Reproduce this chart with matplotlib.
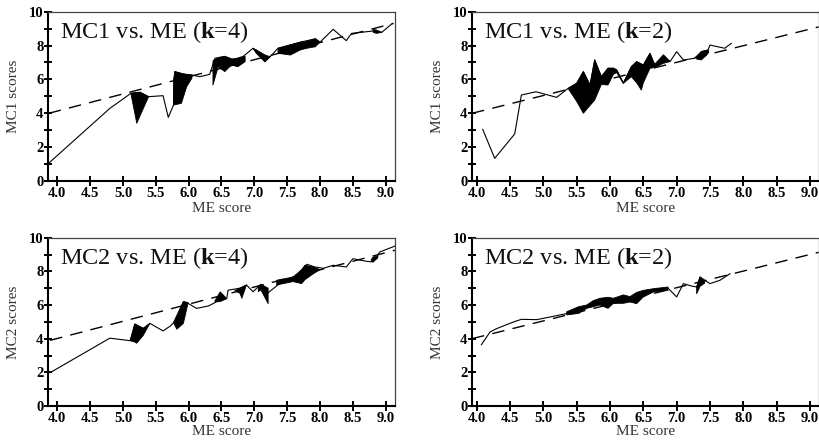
import numpy as np
import matplotlib
matplotlib.use('Agg')
import matplotlib.pyplot as plt

nan = np.nan

# MC1 vs ME, k=4
mc1k4_x = [3.86, 4.80, 5.05, 5.12, 5.26, 5.39, 5.61, 5.69, 5.77, 5.79, 5.92, 6.05, 6.17, 6.32,
           6.40, 6.55, 6.68, 6.83, 6.98, 7.16, 7.24, 7.36, 7.55, 7.70, 7.93, 8.00, 8.20, 8.40,
           8.48, 8.81, 8.94, 9.09]
mc1k4_y = [1.02, 4.29, 4.98, 5.18, 5.24, 4.98, 5.04, 3.76, 4.49, 6.46, 6.32, 6.26, 6.16, 6.30,
           7.25, 7.36, 7.17, 7.36, 7.84, 7.05, 7.34, 7.84, 8.04, 8.20, 8.40, 8.20, 8.96, 8.29,
           8.72, 8.86, 8.78, 9.27]
mc1k4_bx = [5.12, 5.21, 5.26, 5.39, nan, 5.77, 5.79, 5.89, 5.97, 6.05, nan,
            6.37, 6.45, 6.55, 6.65, 6.75, 6.86, nan, 6.98, 7.03, 7.16, 7.24, nan,
            7.36, 7.55, 7.70, 7.80, 7.93, 8.00, nan, 8.81, 8.86, 8.94]
mc1k4_hi = [5.18, 5.22, 5.24, 4.98, nan, 6.00, 6.46, 6.35, 6.28, 6.26, nan,
            7.10, 7.28, 7.36, 7.20, 7.25, 7.36, nan, 7.84, 7.75, 7.45, 7.34, nan,
            7.84, 8.04, 8.20, 8.25, 8.40, 8.20, nan, 8.95, 8.92, 8.78]
mc1k4_lo = [5.18, 3.41, 3.85, 4.98, nan, 4.49, 4.50, 4.59, 5.57, 6.07, nan,
            5.67, 6.75, 6.46, 6.85, 6.75, 7.05, nan, 7.84, 7.54, 7.05, 7.34, nan,
            7.54, 7.44, 7.74, 7.84, 7.93, 8.20, nan, 8.78, 8.72, 8.78]
mc1k4_fit_x = [3.87, 9.12]
mc1k4_fit_y = [4.00, 9.31]

# MC1 vs ME, k=2
mc1k2_x = [4.09, 4.27, 4.57, 4.67, 4.89, 5.20, 5.37, 5.50, 5.60, 5.70, 5.77, 5.87, 5.97, 6.05,
           6.10, 6.20, 6.32, 6.40, 6.50, 6.60, 6.67, 6.80, 6.90, 7.00, 7.10, 7.27, 7.37, 7.47,
           7.50, 7.72, 7.82]
mc1k2_y = [3.05, 1.34, 2.78, 5.08, 5.27, 4.94, 5.47, 5.77, 6.46, 5.67, 7.15, 6.16, 6.66, 6.66,
           6.56, 5.77, 6.75, 7.05, 6.85, 7.54, 6.75, 7.44, 7.05, 7.64, 7.15, 7.25, 7.64, 7.74,
           8.03, 7.84, 8.13]
mc1k2_bx = [5.37, 5.50, 5.60, 5.70, 5.77, 5.87, 5.97, 6.05, 6.10, 6.20, 6.32, 6.40, 6.47, 6.50,
            6.60, 6.67, 6.80, 6.90, nan, 7.30, 7.37, 7.45, 7.48]
mc1k2_hi = [5.47, 5.77, 6.46, 5.67, 7.15, 6.16, 6.66, 6.66, 6.56, 5.80, 6.75, 7.05, 6.90, 6.85,
            7.54, 6.90, 7.44, 7.05, nan, 7.34, 7.64, 7.72, 7.74]
mc1k2_lo = [5.47, 4.70, 4.00, 4.46, 4.78, 5.70, 5.67, 6.30, 6.40, 5.77, 6.16, 5.80, 5.37, 5.80,
            6.66, 6.70, 6.95, 7.05, nan, 7.20, 7.15, 7.44, 7.60]
mc1k2_fit_x = [3.93, 9.13]
mc1k2_fit_y = [4.00, 9.10]

# MC2 vs ME, k=4
mc2k4_x = [3.89, 4.80, 5.11, 5.18, 5.31, 5.41, 5.61, 5.72, 5.77, 5.92, 5.99, 6.12, 6.30, 6.48,
           6.58, 6.60, 6.78, 6.88, 6.98, 7.10, 7.21, 7.39, 7.64, 7.80, 7.92, 8.05, 8.20, 8.40,
           8.50, 8.70, 8.81, 8.91, 9.14]
mc2k4_y = [1.98, 4.03, 3.88, 4.87, 4.61, 4.91, 4.46, 4.75, 4.95, 6.20, 6.10, 5.80, 5.94, 6.30,
           6.38, 6.88, 7.00, 7.19, 6.79, 7.23, 6.73, 7.29, 7.69, 8.42, 8.26, 8.18, 8.36, 8.26,
           8.75, 8.60, 8.56, 9.15, 9.50]
mc2k4_bx = [5.11, 5.18, 5.21, 5.31, 5.41, nan, 5.77, 5.82, 5.92, 5.99, nan, 6.40, 6.48, 6.58, nan,
            6.70, 6.78, 6.81, 6.88, nan, 7.06, 7.10, 7.21, nan,
            7.34, 7.59, 7.72, 7.77, 7.90, 8.00, nan, 8.78, 8.81, 8.88]
mc2k4_hi = [3.88, 4.87, 4.80, 4.61, 4.91, nan, 4.95, 5.30, 6.20, 6.15, nan, 6.25, 6.78, 6.38, nan,
            6.85, 7.00, 7.05, 7.19, nan, 7.05, 7.23, 7.00, nan,
            7.47, 7.66, 8.10, 8.36, 8.26, 8.10, nan, 8.70, 8.85, 8.90]
mc2k4_lo = [3.88, 3.80, 3.73, 4.20, 4.91, nan, 4.95, 4.56, 4.91, 6.10, nan, 6.20, 6.20, 6.38, nan,
            6.85, 6.70, 6.40, 7.19, nan, 6.79, 6.90, 6.08, nan,
            7.19, 7.39, 7.27, 7.50, 7.86, 8.10, nan, 8.60, 8.56, 8.80]
mc2k4_fit_x = [3.89, 9.14]
mc2k4_fit_y = [3.90, 9.25]

# MC2 vs ME, k=2
mc2k2_x = [4.07, 4.20, 4.30, 4.55, 4.67, 4.90, 5.10, 5.35, 5.53, 5.65, 5.75, 5.85, 5.97, 6.05,
           6.20, 6.30, 6.40, 6.50, 6.65, 6.87, 7.00, 7.10, 7.22, 7.30, 7.35, 7.42, 7.50, 7.65, 7.80]
mc2k2_y = [3.64, 4.40, 4.60, 4.99, 5.15, 5.13, 5.29, 5.49, 5.70, 5.90, 6.10, 6.20, 6.20, 6.25,
           6.35, 6.35, 6.45, 6.70, 6.90, 7.00, 6.48, 7.27, 7.13, 7.07, 7.66, 7.47, 7.27, 7.47, 7.86]
mc2k2_bx = [5.35, 5.53, 5.65, 5.75, 5.85, 5.97, 6.05, 6.20, 6.30, 6.40, 6.50, 6.65, 6.87, nan,
            7.30, 7.35, 7.42]
mc2k2_hi = [5.60, 5.90, 6.00, 6.26, 6.40, 6.46, 6.40, 6.60, 6.50, 6.75, 6.87, 6.97, 7.07, nan,
            7.07, 7.66, 7.47]
mc2k2_lo = [5.41, 5.50, 5.80, 5.90, 6.00, 5.80, 6.10, 6.10, 6.18, 6.08, 6.48, 6.77, 6.87, nan,
            6.67, 7.10, 7.30]
mc2k2_fit_x = [3.93, 9.13]
mc2k2_fit_y = [4.00, 9.13]

x_ticks = [4.0, 4.5, 5.0, 5.5, 6.0, 6.5, 7.0, 7.5, 8.0, 8.5, 9.0]
y_ticks = [0, 2, 4, 6, 8, 10]

plt.rcParams['font.family'] = ['Liberation Serif', 'DejaVu Serif']
plt.rcParams['mathtext.fontset'] = 'custom'
plt.rcParams['mathtext.rm'] = 'Liberation Serif'
plt.rcParams['mathtext.bf'] = 'Liberation Serif:bold'


def draw_panel(ax, lx, ly, bx, lo, hi, fx, fy, title, ylabel, xlim, xlab_y):
    ax.plot(fx, fy, color='black', lw=1.0, linestyle=(0, (9, 6)))
    ax.plot(lx, ly, color='black', lw=0.8)
    ax.fill_between(bx, lo, hi, color='black', lw=0.6)
    ax.set_xlim(*xlim)
    ax.set_ylim(0, 10)
    ax.set_xticks(x_ticks)
    ax.set_xticklabels(['%.1f' % v for v in x_ticks], fontweight='bold', fontsize=10.5)
    ax.set_yticks(y_ticks)
    ax.set_yticklabels([str(v) for v in y_ticks], fontweight='bold', fontsize=10.5)
    ax.set_yticks(range(1, 10, 2), minor=True)
    ax.tick_params(axis='x', direction='inout', length=7, width=1.4, pad=1.0)
    ax.tick_params(axis='y', which='both', direction='inout', length=6, width=1.4, pad=0.5)
    for s in ('left', 'bottom'):
        ax.spines[s].set_linewidth(1.5)
    for s in ('top', 'right'):
        ax.spines[s].set_linewidth(0.9)
        ax.spines[s].set_color('#444444')
    ax.set_xlabel('ME score', fontsize=11, color='#333333')
    ax.set_ylabel(ylabel, fontsize=11, color='#333333')
    ax.xaxis.set_label_coords(0.5, xlab_y)
    ax.yaxis.set_label_coords(-0.082, 0.5)
    ax.text(0.033, 0.842, title, transform=ax.transAxes, fontsize=17.5,
            va='baseline', ha='left', color='#111111')


fig = plt.figure(figsize=(8.2, 4.43), dpi=100)
ax1 = fig.add_axes([0.0589, 0.5914, 0.4234, 0.3822])
ax2 = fig.add_axes([0.576, 0.5914, 0.4222, 0.3822])
ax3 = fig.add_axes([0.0589, 0.0835, 0.4234, 0.380])
ax4 = fig.add_axes([0.576, 0.0835, 0.4222, 0.380])

draw_panel(ax1, mc1k4_x, mc1k4_y, mc1k4_bx, mc1k4_lo, mc1k4_hi, mc1k4_fit_x, mc1k4_fit_y,
           r'MC1 vs. ME ($\mathbf{k}$=4)', 'MC1 scores', (3.863, 9.149), -0.125)
draw_panel(ax2, mc1k2_x, mc1k2_y, mc1k2_bx, mc1k2_lo, mc1k2_hi, mc1k2_fit_x, mc1k2_fit_y,
           r'MC1 vs. ME ($\mathbf{k}$=2)', 'MC1 scores', (3.934, 9.128), -0.125)
draw_panel(ax3, mc2k4_x, mc2k4_y, mc2k4_bx, mc2k4_lo, mc2k4_hi, mc2k4_fit_x, mc2k4_fit_y,
           r'MC2 vs. ME ($\mathbf{k}$=4)', 'MC2 scores', (3.863, 9.149), -0.11)
draw_panel(ax4, mc2k2_x, mc2k2_y, mc2k2_bx, mc2k2_lo, mc2k2_hi, mc2k2_fit_x, mc2k2_fit_y,
           r'MC2 vs. ME ($\mathbf{k}$=2)', 'MC2 scores', (3.934, 9.128), -0.11)

fig.savefig('out.png', dpi=100)
